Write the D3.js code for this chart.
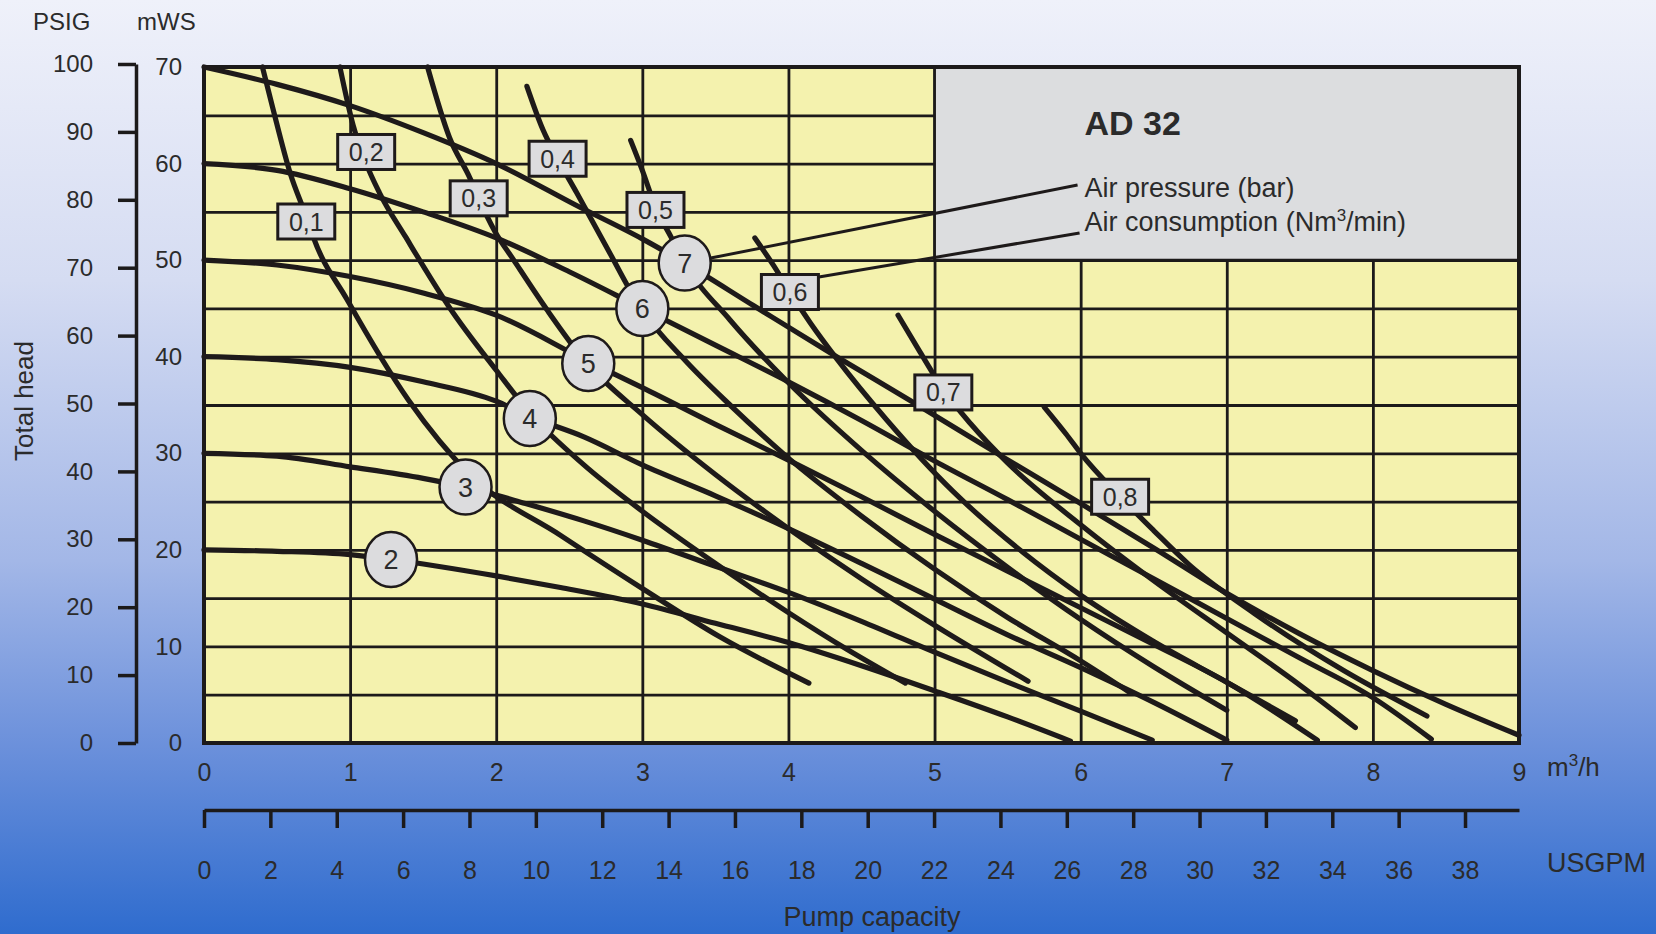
<!DOCTYPE html>
<html>
<head>
<meta charset="utf-8">
<script src="https://cdnjs.cloudflare.com/ajax/libs/d3/7.8.5/d3.min.js"></script>
<style>
    html, body { margin: 0; padding: 0; }
    body { width: 1656px; height: 934px; overflow: hidden; }
    text { font-family: "Liberation Sans", Arial, sans-serif; fill: #2b2b2b; }
</style>
</head>
<body>
<svg id="pumpChart" width="1656" height="934"></svg>
<script>
// flow in m3/h, head in mWS
var pressureNames = ["2", "3", "4", "5", "6", "7"];
var pressureCurves = [
    [[0,20],[0.5,19.85],[1.0,19.5],[1.28,19.0],[2.0,17.3],[2.44,16.1],[3.0,14.4],[3.5,12.4],[4.0,10.4],[4.5,8.0],[5.0,5.4],[5.5,2.7],[5.93,0.2]],
    [[0,30],[0.5,29.7],[1.0,28.6],[1.5,27.4],[1.79,26.5],[2.2,24.8],[2.6,23.0],[3.0,21.0],[3.5,18.3],[4.0,15.6],[4.5,12.6],[5.0,9.4],[5.5,6.3],[6.0,3.3],[6.49,0.3]],
    [[0,40],[0.5,39.7],[1.0,38.9],[1.5,37.4],[2.0,35.4],[2.23,33.8],[2.6,31.7],[3.0,28.8],[3.5,25.6],[4.0,22.2],[4.5,18.6],[5.0,14.9],[5.5,11.2],[6.0,7.8],[6.5,4.2],[7.0,0.3]],
    [[0,50],[0.5,49.5],[1.0,48.3],[1.5,46.6],[2.0,44.3],[2.63,39.5],[3.0,36.8],[3.5,33.0],[4.0,29.3],[4.5,25.5],[5.0,21.6],[5.5,17.8],[6.0,14.0],[6.5,10.2],[7.0,6.3],[7.62,0.3]],
    [[0,60],[0.5,59.3],[1.0,57.4],[1.5,55.0],[2.0,52.3],[2.5,48.8],[3.0,45.0],[3.5,41.2],[4.0,37.4],[4.5,33.4],[5.0,29.2],[5.5,25.2],[6.0,21.1],[6.5,17.0],[7.0,12.9],[7.5,8.8],[8.0,4.7],[8.4,0.4]],
    [[0,70],[0.5,68.2],[1.0,66.0],[1.5,63.2],[2.0,60.0],[2.57,55.5],[3.0,52.2],[3.29,49.7],[3.76,45.3],[4.33,40.0],[4.83,35.5],[5.47,29.6],[6.0,24.8],[6.5,20.2],[7.0,15.5],[7.5,11.3],[8.0,7.5],[8.5,4.0],[9.0,0.8]]
];
var pressureMarkers = [[1.28,19.0],[1.79,26.5],[2.23,33.6],[2.63,39.3],[3.0,45.0],[3.29,49.7]];

var consumptionNames = ["0,1", "0,2", "0,3", "0,4", "0,5", "0,6", "0,7", "0,8"];
var consumptionCurves = [
    [[0.40,70],[0.47,65.8],[0.59,59],[0.70,54.5],[0.75,52.3],[0.98,45.9],[1.4,35.5],[1.82,27.8],[2.44,21.5],[3.0,16],[3.53,11],[4.14,6.2]],
    [[0.93,70],[1.02,64],[1.11,60],[1.2,57],[1.38,52.4],[1.68,45.1],[2.0,38.6],[2.24,34],[2.6,28.8],[3.0,24],[3.5,18.6],[4.0,13.5],[4.4,9.7],[4.8,6.2]],
    [[1.53,70],[1.68,62.7],[1.82,58.5],[1.88,56.4],[1.99,53],[2.12,50],[2.35,44.8],[2.61,39.5],[3.0,34],[3.5,27.8],[4.0,22.2],[4.5,17],[5.0,12.2],[5.64,6.4]],
    [[2.21,68],[2.32,63.5],[2.42,60.5],[2.55,57],[2.75,51.5],[2.99,45],[3.3,39.5],[3.6,35],[4.0,29.5],[4.5,23.5],[5.0,18],[5.5,13],[6.0,8.5],[6.34,5.2]],
    [[2.92,62.4],[3.0,59.3],[3.09,55.5],[3.2,52.3],[3.29,49.7],[3.6,43.8],[4.0,37.3],[4.5,30.3],[5.0,24],[5.5,18.2],[6.0,12.8],[6.5,7.9],[7.0,3.4]],
    [[3.77,52.3],[3.9,49.4],[4.01,46.7],[4.15,43.5],[4.33,39.8],[4.67,33.5],[5.13,26],[5.6,19.8],[6.0,15.3],[6.5,10.5],[7.0,6.3],[7.47,2.3]],
    [[4.75,44.3],[4.9,40.5],[5.06,36.6],[5.25,33],[5.5,29],[6.0,22.6],[6.5,16.8],[7.0,11.4],[7.5,6],[7.88,1.6]],
    [[5.75,34.8],[5.9,32],[6.0,30],[6.27,25.5],[6.5,22],[6.74,18.5],[7.2,13.3],[7.8,7.5],[8.37,2.8]]
];
var consumptionMarkers = [[0.70,54.0],[1.11,61.2],[1.88,56.4],[2.42,60.5],[3.09,55.2],[4.01,46.7],[5.06,36.3],[6.27,25.5]];

var flowTicks = [0, 1, 2, 3, 4, 5, 6, 7, 8, 9];
var headTicks = [0, 10, 20, 30, 40, 50, 60, 70];
var headGrid = [0, 5, 10, 15, 20, 25, 30, 35, 40, 45, 50, 55, 60, 65, 70];
var psigTicks = [0, 10, 20, 30, 40, 50, 60, 70, 80, 90, 100];
var usgpmTicks = [0, 2, 4, 6, 8, 10, 12, 14, 16, 18, 20, 22, 24, 26, 28, 30, 32, 34, 36, 38];
var infoFlow = [5, 9];
var infoHead = [50, 70];
var m3hPerUsgpm = 0.22712;

var svg = d3.select("#pumpChart");
var plot = {left: 204, right: 1519, top: 67, bottom: 743};

var x = d3.scaleLinear().domain([0, 9]).range([plot.left, plot.right]);
var y = d3.scaleLinear().domain([0, 70]).range([plot.bottom, plot.top]);
var psig = d3.scaleLinear().domain([0, 100]).range([plot.bottom, 64]);
var gpm = d3.scaleLinear().domain([0, 9 / m3hPerUsgpm]).range([plot.left, plot.right]);

drawBackground();
drawPlotArea();
drawAxes();
drawCurves();
drawMarkers();
drawInfo();

function drawBackground() {
    var grad = svg.append("defs").append("linearGradient")
        .attr("id", "bgGrad")
        .attr("x1", 0).attr("y1", 0).attr("x2", 0).attr("y2", 1);
    grad.append("stop").attr("offset", "0%").attr("stop-color", "#eff1fa");
    grad.append("stop").attr("offset", "30%").attr("stop-color", "#d5dcf2");
    grad.append("stop").attr("offset", "60%").attr("stop-color", "#a3b7e7");
    grad.append("stop").attr("offset", "80%").attr("stop-color", "#6b90db");
    grad.append("stop").attr("offset", "100%").attr("stop-color", "#2f6cce");
    svg.append("rect")
        .attr("width", 1656).attr("height", 934)
        .attr("fill", "url(#bgGrad)");
}

function drawPlotArea() {
    svg.append("rect")
        .attr("x", plot.left).attr("y", plot.top)
        .attr("width", plot.right - plot.left).attr("height", plot.bottom - plot.top)
        .attr("fill", "#f4f2ae");

    // grid lines
    var gx = svg.append("g")
        .attr("transform", "translate(0," + plot.bottom + ")")
        .call(d3.axisBottom(x).tickValues(flowTicks).tickSize(-(plot.bottom - plot.top)).tickFormat(""));
    var gy = svg.append("g")
        .attr("transform", "translate(" + plot.left + ",0)")
        .call(d3.axisLeft(y).tickValues(headGrid).tickSize(-(plot.right - plot.left)).tickFormat(""));
    [gx, gy].forEach(function(g) {
        g.select(".domain").remove();
        g.selectAll("line").attr("stroke", "#1c1a1a").attr("stroke-width", 2.8);
    });

    // grey title box in the top right
    svg.append("rect")
        .attr("x", x(infoFlow[0])).attr("y", y(infoHead[1]))
        .attr("width", x(infoFlow[1]) - x(infoFlow[0]))
        .attr("height", y(infoHead[0]) - y(infoHead[1]))
        .attr("fill", "#dcdddf")
        .attr("stroke", "#1c1a1a").attr("stroke-width", 2.8);

    svg.append("rect")
        .attr("x", plot.left).attr("y", plot.top)
        .attr("width", plot.right - plot.left).attr("height", plot.bottom - plot.top)
        .attr("fill", "none")
        .attr("stroke", "#1c1a1a").attr("stroke-width", 4);
}

function drawAxes() {
    // PSIG axis
    var pAxis = svg.append("g")
        .attr("transform", "translate(136,0)")
        .call(d3.axisLeft(psig).tickValues(psigTicks).tickSize(18).tickSizeOuter(0).tickPadding(25));
    pAxis.selectAll("line, path").attr("stroke", "#1c1a1a").attr("stroke-width", 3.5);
    pAxis.selectAll("text").style("font-size", "24px").attr("fill", "#2b2b2b");

    // mWS labels
    var mAxis = svg.append("g")
        .attr("transform", "translate(" + plot.left + ",0)")
        .call(d3.axisLeft(y).tickValues(headTicks).tickSize(0).tickPadding(22));
    mAxis.select(".domain").remove();
    mAxis.selectAll("text").style("font-size", "24px").attr("fill", "#2b2b2b");

    // m3/h labels
    var fAxis = svg.append("g")
        .attr("transform", "translate(0," + plot.bottom + ")")
        .call(d3.axisBottom(x).tickValues(flowTicks).tickSize(0).tickPadding(20));
    fAxis.select(".domain").remove();
    fAxis.selectAll("text").style("font-size", "25px").attr("fill", "#2b2b2b");

    // USGPM axis
    var uAxis = svg.append("g")
        .attr("transform", "translate(0,810)")
        .call(d3.axisBottom(gpm).tickValues(usgpmTicks).tickSize(18).tickSizeOuter(0).tickPadding(33));
    uAxis.selectAll("line, path").attr("stroke", "#1c1a1a").attr("stroke-width", 3.5);
    uAxis.selectAll("text").style("font-size", "25px").attr("fill", "#2b2b2b");

    svg.append("text").attr("x", 33).attr("y", 30).style("font-size", "24px").text("PSIG");
    svg.append("text").attr("x", 137).attr("y", 30).style("font-size", "24px").text("mWS");

    svg.append("text")
        .attr("transform", "translate(33,401) rotate(-90)")
        .attr("text-anchor", "middle")
        .style("font-size", "26px")
        .text("Total head");

    var unit = svg.append("text").attr("x", 1547).attr("y", 776).style("font-size", "26px");
    unit.append("tspan").text("m");
    unit.append("tspan").attr("dy", -10).style("font-size", "17px").text("3");
    unit.append("tspan").attr("dy", 10).text("/h");

    svg.append("text").attr("x", 1547).attr("y", 872).style("font-size", "27px").text("USGPM");

    svg.append("text")
        .attr("x", 872).attr("y", 926)
        .attr("text-anchor", "middle")
        .style("font-size", "27px")
        .text("Pump capacity");
}

function drawCurves() {
    var line = d3.line()
        .x(function(d) { return x(d[0]); })
        .y(function(d) { return y(d[1]); })
        .curve(d3.curveMonotoneX);

    svg.append("g").selectAll(".pressureLine")
        .data(pressureCurves)
        .enter()
        .append("path")
        .attr("class", "pressureLine")
        .attr("fill", "none")
        .attr("stroke", "#1e1a1a")
        .attr("stroke-width", 5.2)
        .attr("stroke-linecap", "round")
        .attr("d", line);

    svg.append("g").selectAll(".consumptionLine")
        .data(consumptionCurves)
        .enter()
        .append("path")
        .attr("class", "consumptionLine")
        .attr("fill", "none")
        .attr("stroke", "#1e1a1a")
        .attr("stroke-width", 5.2)
        .attr("stroke-linecap", "round")
        .attr("d", line);
}

function drawInfo() {
    var tx = x(infoFlow[0]) + 150;
    svg.append("text")
        .attr("x", tx).attr("y", 135)
        .style("font-size", "34px").style("font-weight", "bold").attr("fill", "#111")
        .text("AD 32");
    svg.append("text")
        .attr("x", tx).attr("y", 197)
        .style("font-size", "27px").attr("fill", "#222")
        .text("Air pressure (bar)");
    var cons = svg.append("text")
        .attr("x", tx).attr("y", 231)
        .style("font-size", "27px").attr("fill", "#222");
    cons.append("tspan").text("Air consumption (Nm");
    cons.append("tspan").attr("dy", -10).style("font-size", "17px").text("3");
    cons.append("tspan").attr("dy", 10).text("/min)");

    // leader lines
    var p7 = pressureMarkers[5];
    var c6 = consumptionMarkers[5];
    svg.append("line")
        .attr("x1", x(p7[0]) + 26).attr("y1", y(p7[1]) - 5)
        .attr("x2", tx - 7).attr("y2", 185)
        .attr("stroke", "#1e1a1a").attr("stroke-width", 3);
    svg.append("line")
        .attr("x1", x(c6[0]) + 29).attr("y1", y(c6[1]) - 15)
        .attr("x2", tx - 5).attr("y2", 233)
        .attr("stroke", "#1e1a1a").attr("stroke-width", 3);
}

function drawMarkers() {
    var pm = svg.append("g").selectAll("g")
        .data(pressureMarkers)
        .enter()
        .append("g")
        .attr("transform", function(d) { return "translate(" + x(d[0]) + "," + y(d[1]) + ")"; });
    pm.append("ellipse")
        .attr("rx", 26).attr("ry", 27.5)
        .attr("fill", "#dcdcde")
        .attr("stroke", "#1e1a1a").attr("stroke-width", 2.5);
    pm.append("text")
        .attr("text-anchor", "middle")
        .attr("dy", "0.36em")
        .style("font-size", "27px").attr("fill", "#333")
        .text(function(d, i) { return pressureNames[i]; });

    var cm = svg.append("g").selectAll("g")
        .data(consumptionMarkers)
        .enter()
        .append("g")
        .attr("transform", function(d) { return "translate(" + x(d[0]) + "," + y(d[1]) + ")"; });
    cm.append("rect")
        .attr("x", -28.5).attr("y", -17.5)
        .attr("width", 57).attr("height", 35)
        .attr("fill", "#dcdcde")
        .attr("stroke", "#1e1a1a").attr("stroke-width", 3);
    cm.append("text")
        .attr("text-anchor", "middle")
        .attr("dy", "0.36em")
        .style("font-size", "25px").attr("fill", "#333")
        .text(function(d, i) { return consumptionNames[i]; });
}
</script>
</body>
</html>
